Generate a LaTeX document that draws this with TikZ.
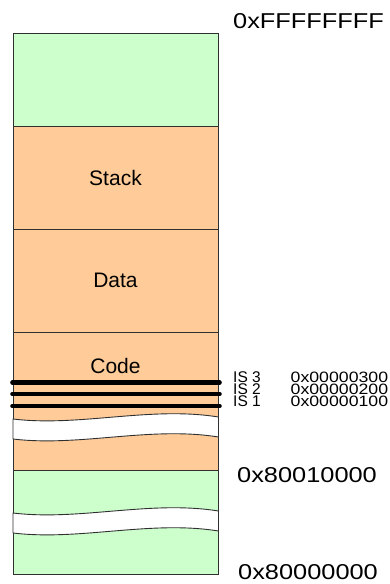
\documentclass[tikz,border=0pt]{standalone}
\usepackage{fontspec}
\setmainfont{Liberation Sans}
\newfontfamily\widefont[FakeStretch=1.18]{Liberation Sans}

\definecolor{memgreen}{HTML}{CCFFCC}
\definecolor{memorange}{HTML}{FFCC99}
\definecolor{edgegray}{HTML}{303030}

\begin{document}
\begin{tikzpicture}[x=1pt, y=-1pt,
  region/.style={draw=edgegray, line width=0.9pt},
  seglabel/.style={font=\fontsize{21}{25}\selectfont, inner sep=0pt},
  bigaddr/.style={font=\widefont\fontsize{21.5}{25}\selectfont, inner sep=0pt, anchor=base west},
  islabel/.style={font=\fontsize{15.5}{15}\selectfont, inner sep=0pt, anchor=base west},
  isaddr/.style={font=\widefont\fontsize{15}{15}\selectfont, inner sep=0pt, anchor=base west},
  isline/.style={line width=4.6pt, line cap=round},
  gapband/.style={fill=white, draw=edgegray, line width=0.9pt}]

\useasboundingbox (0,0) rectangle (390,584);

% memory regions, top to bottom
\filldraw[region, fill=memgreen]  (13,33)    rectangle (218.5,126);
\filldraw[region, fill=memorange] (13,126)   rectangle (218.5,229);
\filldraw[region, fill=memorange] (13,229)   rectangle (218.5,332);
\filldraw[region, fill=memorange] (13,332)   rectangle (218.5,470.5);
\filldraw[region, fill=memgreen]  (13,470.5) rectangle (218.5,574);

% segment names
\node[seglabel] (stack) at (115.5,178) {Stack};
\node[seglabel] (data)  at (115.5,280) {Data};
\node[seglabel] (code)  at (115.5,366) {Code};

% elided address ranges
\filldraw[gapband] (13,419) .. controls (80,427) and (150,406) .. (218.5,417)
  -- (218.5,437) .. controls (150,426) and (80,447) .. (13,439) -- cycle;
\filldraw[gapband] (13,513) .. controls (80,521) and (150,500) .. (218.5,511)
  -- (218.5,531) .. controls (150,520) and (80,541) .. (13,533) -- cycle;

% interrupt service entry points
\coordinate (is3L) at (12.5,382.5);  \coordinate (is3R) at (219.5,382.5);
\coordinate (is2L) at (12.5,394);    \coordinate (is2R) at (219.5,394);
\coordinate (is1L) at (12.5,406);    \coordinate (is1R) at (219.5,406);
\draw[isline] (is3L) -- (is3R);
\draw[isline] (is2L) -- (is2R);
\draw[isline] (is1L) -- (is1R);

\node[islabel] (is3) at (233,382.5) {IS 3};
\node[islabel] (is2) at (233,394)   {IS 2};
\node[islabel] (is1) at (233,406)   {IS 1};
\node[isaddr] (a3) at (290.5,382.5) {0x00000300};
\node[isaddr] (a2) at (290.5,394)   {0x00000200};
\node[isaddr] (a1) at (290.5,406)   {0x00000100};

% boundary addresses
\node[bigaddr] (top)  at (233,28)    {0xFFFFFFFF};
\node[bigaddr] (base) at (237,482)   {0x80010000};
\node[bigaddr] (low)  at (238,579.5) {0x80000000};

\end{tikzpicture}
\end{document}
